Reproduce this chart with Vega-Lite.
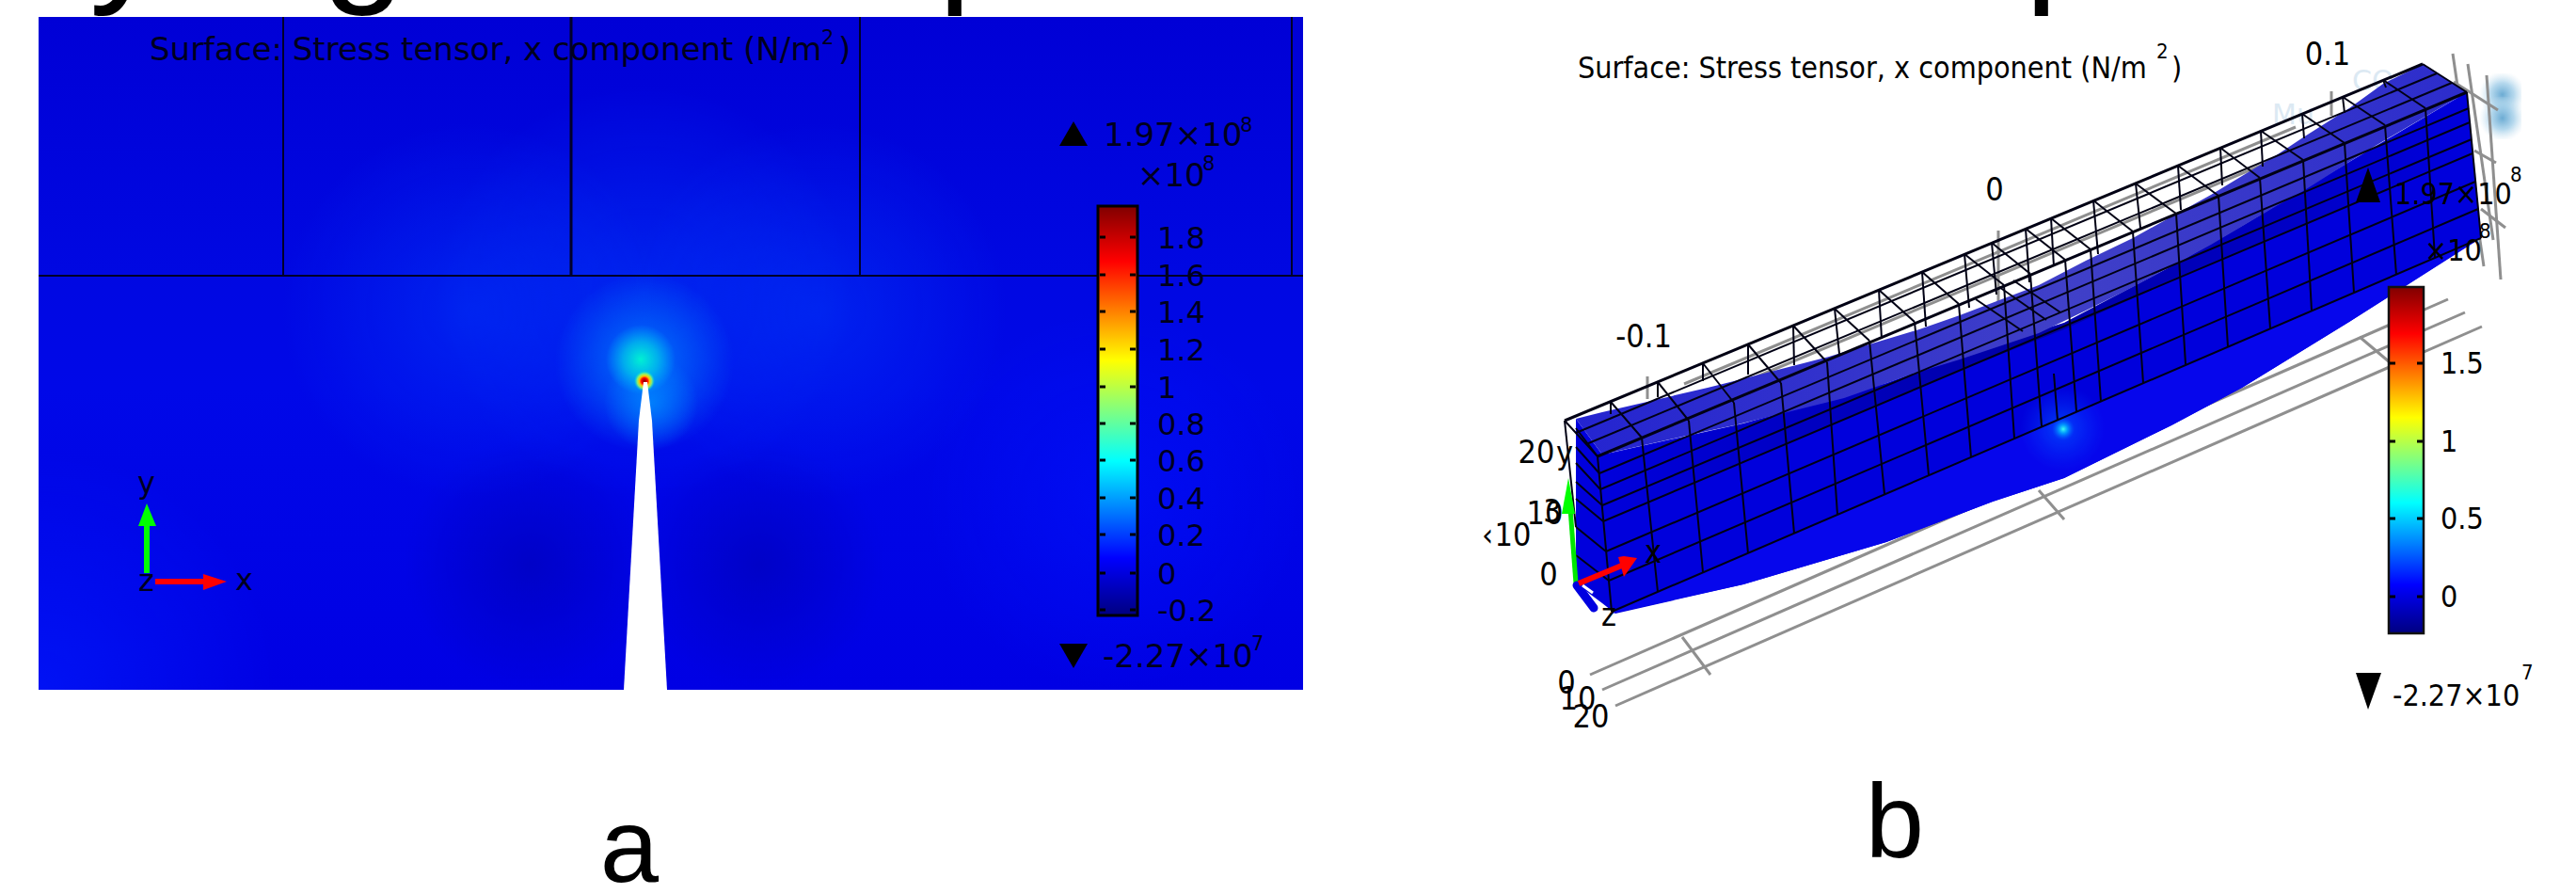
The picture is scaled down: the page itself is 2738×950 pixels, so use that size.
{"$schema":"https://vega.github.io/schema/vega-lite/v6.json","autosize":"none","width":2738,"height":950,"padding":0,"background":"white","view":{"stroke":null},"datasets":{"aLines":[{"x":301,"y":18,"x2":301,"y2":293},{"x":914,"y":18,"x2":914,"y2":293},{"x":1373,"y":18,"x2":1373,"y2":293},{"x":41,"y":293,"x2":1385,"y2":293}],"gray":[{"x":1690,"y":717,"x2":2602,"y2":318},{"x":1703,"y":733,"x2":2620,"y2":332},{"x":1717,"y":750,"x2":2638,"y2":347},{"x":1788,"y":677,"x2":1818,"y2":717},{"x":2167,"y":521,"x2":2194,"y2":552},{"x":2508,"y":358,"x2":2540,"y2":385},{"x":2607,"y":57,"x2":2640,"y2":283},{"x":2623,"y":68,"x2":2650,"y2":255},{"x":2643,"y":80,"x2":2658,"y2":297},{"x":2608,"y":87,"x2":2655,"y2":117},{"x":2630,"y":160,"x2":2653,"y2":173},{"x":2637,"y":222,"x2":2663,"y2":242},{"x":1751,"y":400,"x2":1751,"y2":424},{"x":2124,"y":245,"x2":2124,"y2":330},{"x":2478,"y":97,"x2":2478,"y2":123},{"x":1790,"y":408,"x2":2440,"y2":135},{"x":1820,"y":420,"x2":2460,"y2":152}],"mesh":[{"x":1700,"y":503,"x2":2624,"y2":115},{"x":1701,"y":520,"x2":2625,"y2":130},{"x":1703,"y":537,"x2":2627,"y2":148},{"x":1704,"y":554,"x2":2628,"y2":163},{"x":1707,"y":586,"x2":2631,"y2":193},{"x":1710,"y":617,"x2":2634,"y2":222},{"x":1713,"y":650,"x2":2637,"y2":253},{"x":1698,"y":485,"x2":1713,"y2":650},{"x":2622,"y":98,"x2":2637,"y2":253},{"x":1745,"y":465,"x2":1762,"y2":629},{"x":1795,"y":447,"x2":1810,"y2":608},{"x":1843,"y":428,"x2":1858,"y2":588},{"x":1893,"y":407,"x2":1907,"y2":567},{"x":1942,"y":385,"x2":1953,"y2":547},{"x":1987,"y":362,"x2":2003,"y2":525},{"x":2035,"y":342,"x2":2050,"y2":505},{"x":2082,"y":323,"x2":2095,"y2":486},{"x":2130,"y":303,"x2":2141,"y2":466},{"x":2158,"y":291,"x2":2170,"y2":453},{"x":2195,"y":276,"x2":2207,"y2":437},{"x":2222,"y":265,"x2":2233,"y2":427},{"x":2267,"y":246,"x2":2278,"y2":407},{"x":2313,"y":227,"x2":2323,"y2":387},{"x":2358,"y":208,"x2":2368,"y2":369},{"x":2402,"y":189,"x2":2413,"y2":349},{"x":2448,"y":170,"x2":2457,"y2":330},{"x":2492,"y":152,"x2":2502,"y2":311},{"x":2535,"y":133,"x2":2547,"y2":292},{"x":2578,"y":115,"x2":2588,"y2":274},{"x":2183,"y":397,"x2":2187,"y2":447},{"x":1663,"y":447,"x2":1698,"y2":485},{"x":1712,"y":427,"x2":1745,"y2":465},{"x":1762,"y":406,"x2":1795,"y2":447},{"x":1810,"y":386,"x2":1843,"y2":428},{"x":1858,"y":366,"x2":1893,"y2":407},{"x":1906,"y":346,"x2":1942,"y2":385},{"x":1950,"y":328,"x2":1987,"y2":362},{"x":1997,"y":308,"x2":2035,"y2":342},{"x":2043,"y":289,"x2":2082,"y2":323},{"x":2088,"y":270,"x2":2130,"y2":303},{"x":2117,"y":258,"x2":2158,"y2":291},{"x":2153,"y":243,"x2":2195,"y2":276},{"x":2180,"y":232,"x2":2222,"y2":265},{"x":2225,"y":213,"x2":2267,"y2":246},{"x":2270,"y":195,"x2":2313,"y2":227},{"x":2315,"y":176,"x2":2358,"y2":208},{"x":2360,"y":157,"x2":2402,"y2":189},{"x":2403,"y":139,"x2":2448,"y2":170},{"x":2447,"y":121,"x2":2492,"y2":152},{"x":2490,"y":103,"x2":2535,"y2":133},{"x":2533,"y":85,"x2":2578,"y2":115},{"x":2575,"y":68,"x2":2622,"y2":98},{"x":1675,"y":460,"x2":2590,"y2":78},{"x":1686,"y":472,"x2":2606,"y2":88},{"x":1712,"y":427,"x2":1712,"y2":440},{"x":1762,"y":406,"x2":1762,"y2":422},{"x":1810,"y":386,"x2":1810,"y2":405},{"x":1858,"y":366,"x2":1858,"y2":398},{"x":1906,"y":346,"x2":1907,"y2":388},{"x":1950,"y":328,"x2":1955,"y2":376},{"x":1997,"y":308,"x2":2000,"y2":360},{"x":2043,"y":289,"x2":2047,"y2":347},{"x":2088,"y":270,"x2":2093,"y2":327},{"x":2117,"y":258,"x2":2122,"y2":313},{"x":2153,"y":243,"x2":2157,"y2":300},{"x":2180,"y":232,"x2":2183,"y2":283},{"x":2225,"y":213,"x2":2230,"y2":270},{"x":2270,"y":195,"x2":2275,"y2":242},{"x":2315,"y":176,"x2":2318,"y2":223},{"x":2360,"y":157,"x2":2362,"y2":197},{"x":2403,"y":139,"x2":2405,"y2":177},{"x":2447,"y":121,"x2":2449,"y2":147},{"x":2490,"y":103,"x2":2492,"y2":120},{"x":2533,"y":85,"x2":2536,"y2":93},{"x":1698,"y":485,"x2":1675,"y2":455},{"x":1700,"y":503,"x2":1675,"y2":475},{"x":1701,"y":520,"x2":1675,"y2":492},{"x":1703,"y":537,"x2":1675,"y2":512},{"x":1704,"y":554,"x2":1675,"y2":530},{"x":1707,"y":586,"x2":1675,"y2":560},{"x":1710,"y":617,"x2":1675,"y2":590},{"x":1663,"y":447,"x2":1675,"y2":560},{"x":2100,"y":318,"x2":2150,"y2":352},{"x":2125,"y":305,"x2":2175,"y2":340},{"x":2140,"y":298,"x2":2190,"y2":332}],"meshThick":[{"x":1663,"y":447,"x2":2575,"y2":68},{"x":1698,"y":485,"x2":2622,"y2":98}],"aTicks":[{"x":1169,"y":252,"x2":1175,"y2":252},{"x":1201,"y":252,"x2":1207,"y2":252},{"x":1169,"y":292,"x2":1175,"y2":292},{"x":1201,"y":292,"x2":1207,"y2":292},{"x":1169,"y":331,"x2":1175,"y2":331},{"x":1201,"y":331,"x2":1207,"y2":331},{"x":1169,"y":371,"x2":1175,"y2":371},{"x":1201,"y":371,"x2":1207,"y2":371},{"x":1169,"y":411,"x2":1175,"y2":411},{"x":1201,"y":411,"x2":1207,"y2":411},{"x":1169,"y":450,"x2":1175,"y2":450},{"x":1201,"y":450,"x2":1207,"y2":450},{"x":1169,"y":489,"x2":1175,"y2":489},{"x":1201,"y":489,"x2":1207,"y2":489},{"x":1169,"y":529,"x2":1175,"y2":529},{"x":1201,"y":529,"x2":1207,"y2":529},{"x":1169,"y":568,"x2":1175,"y2":568},{"x":1201,"y":568,"x2":1207,"y2":568},{"x":1169,"y":609,"x2":1175,"y2":609},{"x":1201,"y":609,"x2":1207,"y2":609},{"x":1169,"y":648,"x2":1175,"y2":648},{"x":1201,"y":648,"x2":1207,"y2":648},{"x":2540,"y":386,"x2":2546,"y2":386},{"x":2569,"y":386,"x2":2575,"y2":386},{"x":2540,"y":469,"x2":2546,"y2":469},{"x":2569,"y":469,"x2":2575,"y2":469},{"x":2540,"y":551,"x2":2546,"y2":551},{"x":2569,"y":551,"x2":2575,"y2":551},{"x":2540,"y":634,"x2":2546,"y2":634},{"x":2569,"y":634,"x2":2575,"y2":634}],"triangles":[{"t":"aUp","x":1126,"y":155,"y2":155},{"t":"aUp","x":1141,"y":129,"y2":155},{"t":"aUp","x":1156,"y":155,"y2":155},{"t":"aDown","x":1126,"y":684,"y2":684},{"t":"aDown","x":1141,"y":684,"y2":710},{"t":"aDown","x":1156,"y":684,"y2":684},{"t":"bUp","x":2504,"y":215,"y2":215},{"t":"bUp","x":2517,"y":178,"y2":215},{"t":"bUp","x":2530,"y":215,"y2":215},{"t":"bDown","x":2504,"y":715,"y2":715},{"t":"bDown","x":2517,"y":715,"y2":754},{"t":"bDown","x":2531,"y":715,"y2":715}],"blobBright":[{"x":465,"y":90,"x2":905,"y2":530},{"x":300,"y":130,"x2":700,"y2":530},{"x":670,"y":130,"x2":1070,"y2":530}],"blobDark":[{"x":430,"y":467,"x2":696,"y2":733},{"x":674,"y":467,"x2":940,"y2":733}],"blobMid":[{"x":590,"y":290,"x2":780,"y2":480},{"x":642,"y":378,"x2":742,"y2":478}]},"encoding":{"x":{"field":"x","type":"quantitative","axis":null,"scale":{"domain":[0,2738],"nice":false,"zero":false}},"y":{"field":"y","type":"quantitative","axis":null,"scale":{"domain":[950,0],"nice":false,"zero":false}}},"layer":[{"data":{"values":[{"x":95,"y":-16,"t":"y"},{"x":342,"y":-16,"t":"g"},{"x":997,"y":-16,"t":"p"},{"x":2152,"y":-16,"t":"p"}]},"mark":{"type":"text","font":"Liberation Sans","fontSize":160,"align":"left","baseline":"alphabetic","color":"#000"},"encoding":{"text":{"field":"t"}}},{"data":{"values":[{"x":41,"y":18,"x2":1385,"y2":733}]},"mark":{"type":"rect","fill":{"gradient":"linear","x1":0,"y1":0,"x2":0,"y2":1,"stops":[{"offset":0,"color":"#0000d6"},{"offset":0.38,"color":"#0008e2"},{"offset":0.55,"color":"#0008e8"},{"offset":1,"color":"#0000e4"}]}},"encoding":{"x2":{"field":"x2"},"y2":{"field":"y2"}}},{"data":{"values":[{"x":41,"y":480,"x2":294,"y2":733}]},"mark":{"type":"rect","fill":{"gradient":"radial","x1":0,"y1":1,"r1":0,"x2":0,"y2":1,"r2":1,"stops":[{"offset":0,"color":"rgba(0,30,255,0.6)"},{"offset":1,"color":"rgba(0,30,255,0)"}]}},"encoding":{"x2":{"field":"x2"},"y2":{"field":"y2"}}},{"data":{"values":[{"x":982,"y":330,"x2":1385,"y2":733}]},"mark":{"type":"rect","fill":{"gradient":"radial","x1":0.5,"y1":0.5,"r1":0,"x2":0.5,"y2":0.5,"r2":0.5,"stops":[{"offset":0,"color":"rgba(0,20,255,0.5)"},{"offset":1,"color":"rgba(0,20,255,0)"}]}},"encoding":{"x2":{"field":"x2"},"y2":{"field":"y2"}}},{"data":{"name":"blobDark"},"mark":{"type":"rect","fill":{"gradient":"radial","x1":0.5,"y1":0.5,"r1":0,"x2":0.5,"y2":0.5,"r2":0.5,"stops":[{"offset":0,"color":"rgba(0,0,170,0.5)"},{"offset":1,"color":"rgba(0,0,170,0)"}]}},"encoding":{"x2":{"field":"x2"},"y2":{"field":"y2"}}},{"data":{"name":"blobBright"},"mark":{"type":"rect","fill":{"gradient":"radial","x1":0.5,"y1":0.5,"r1":0,"x2":0.5,"y2":0.5,"r2":0.5,"stops":[{"offset":0,"color":"rgba(0,70,255,0.42)"},{"offset":1,"color":"rgba(0,70,255,0)"}]}},"encoding":{"x2":{"field":"x2"},"y2":{"field":"y2"}}},{"data":{"name":"blobMid"},"mark":{"type":"rect","fill":{"gradient":"radial","x1":0.5,"y1":0.5,"r1":0,"x2":0.5,"y2":0.5,"r2":0.5,"stops":[{"offset":0,"color":"rgba(0,140,255,0.8)"},{"offset":1,"color":"rgba(0,140,255,0)"}]}},"encoding":{"x2":{"field":"x2"},"y2":{"field":"y2"}}},{"data":{"values":[{"x":644,"y":345,"x2":718,"y2":419}]},"mark":{"type":"rect","fill":{"gradient":"radial","x1":0.5,"y1":0.5,"r1":0,"x2":0.5,"y2":0.5,"r2":0.5,"stops":[{"offset":0,"color":"rgba(0,240,210,1)"},{"offset":0.5,"color":"rgba(0,220,230,0.6)"},{"offset":1,"color":"rgba(0,200,255,0)"}]}},"encoding":{"x2":{"field":"x2"},"y2":{"field":"y2"}}},{"data":{"values":[{"x":674,"y":394,"x2":696,"y2":416}]},"mark":{"type":"rect","fill":{"gradient":"radial","x1":0.5,"y1":0.5,"r1":0,"x2":0.5,"y2":0.5,"r2":0.5,"stops":[{"offset":0,"color":"#800000"},{"offset":0.3,"color":"#ff0000"},{"offset":0.5,"color":"#ffc800"},{"offset":0.72,"color":"rgba(160,255,90,0.8)"},{"offset":1,"color":"rgba(0,240,210,0)"}]}},"encoding":{"x2":{"field":"x2"},"y2":{"field":"y2"}}},{"data":{"values":[{"x":663,"y":733,"y2":733},{"x":679,"y":447,"y2":733},{"x":684,"y":406,"y2":733},{"x":688,"y":406,"y2":733},{"x":693,"y":447,"y2":733},{"x":709,"y":733,"y2":733}]},"mark":{"type":"area","color":"#ffffff"},"encoding":{"y2":{"field":"y2"}}},{"data":{"name":"aLines"},"mark":{"type":"rule","color":"#00002a","strokeWidth":2},"encoding":{"x2":{"field":"x2"},"y2":{"field":"y2"}}},{"data":{"values":[{"x":607,"y":18,"x2":607,"y2":293}]},"mark":{"type":"rule","color":"#00002a","strokeWidth":3},"encoding":{"x2":{"field":"x2"},"y2":{"field":"y2"}}},{"data":{"values":[{"x":1167,"y":219,"x2":1209,"y2":654}]},"mark":{"type":"rect","stroke":"#000","strokeWidth":3,"fill":{"gradient":"linear","x1":0,"y1":0,"x2":0,"y2":1,"stops":[{"offset":0,"color":"#800000"},{"offset":0.135,"color":"#ff0000"},{"offset":0.377,"color":"#ffff00"},{"offset":0.5,"color":"#80ff80"},{"offset":0.623,"color":"#00ffff"},{"offset":0.86,"color":"#0000ff"},{"offset":1,"color":"#000080"}]}},"encoding":{"x2":{"field":"x2"},"y2":{"field":"y2"}}},{"data":{"values":[{"x":1230,"y":264,"t":"1.8"},{"x":1230,"y":304,"t":"1.6"},{"x":1230,"y":343,"t":"1.4"},{"x":1230,"y":383,"t":"1.2"},{"x":1230,"y":423,"t":"1"},{"x":1230,"y":462,"t":"0.8"},{"x":1230,"y":501,"t":"0.6"},{"x":1230,"y":541,"t":"0.4"},{"x":1230,"y":580,"t":"0.2"},{"x":1230,"y":621,"t":"0"},{"x":1230,"y":660,"t":"-0.2"},{"x":146,"y":524,"t":"y"},{"x":250,"y":627,"t":"x"},{"x":147,"y":628,"t":"z"}]},"mark":{"type":"text","font":"DejaVu Sans","fontSize":32,"align":"left","baseline":"alphabetic","color":"#00001e"},"encoding":{"text":{"field":"t"}}},{"data":{"values":[{"x":1173,"y":155,"t":"1.97×10"},{"x":1209,"y":198,"t":"×10"},{"x":1172,"y":709,"t":"-2.27×10"},{"x":159,"y":64,"t":"Surface: Stress tensor, x component (N/m"},{"x":891,"y":64,"t":")"}]},"mark":{"type":"text","font":"DejaVu Sans","fontSize":34,"align":"left","baseline":"alphabetic","color":"#00001e"},"encoding":{"text":{"field":"t"}}},{"data":{"values":[{"x":1318,"y":140,"t":"8"},{"x":1278,"y":181,"t":"8"},{"x":1330,"y":691,"t":"7"},{"x":873,"y":47,"t":"2"}]},"mark":{"type":"text","font":"DejaVu Sans","fontSize":21,"align":"left","baseline":"alphabetic","color":"#00001e"},"encoding":{"text":{"field":"t"}}},{"data":{"values":[{"x":156,"y":609,"x2":156,"y2":555}]},"mark":{"type":"rule","color":"#00ff00","strokeWidth":6},"encoding":{"x2":{"field":"x2"},"y2":{"field":"y2"}}},{"data":{"values":[{"x":147,"y":559,"y2":559},{"x":156,"y":535,"y2":559},{"x":166,"y":559,"y2":559}]},"mark":{"type":"area","color":"#00ff00"},"encoding":{"y2":{"field":"y2"}}},{"data":{"values":[{"x":165,"y":618,"x2":220,"y2":618}]},"mark":{"type":"rule","color":"#ff0000","strokeWidth":6},"encoding":{"x2":{"field":"x2"},"y2":{"field":"y2"}}},{"data":{"values":[{"x":216,"y":610,"y2":627},{"x":241,"y":618,"y2":618}]},"mark":{"type":"area","color":"#ff0000"},"encoding":{"y2":{"field":"y2"}}},{"data":{"values":[{"x":2635,"y":78,"x2":2680,"y2":123},{"x":2635,"y":103,"x2":2680,"y2":148}]},"mark":{"type":"rect","fill":{"gradient":"radial","x1":0.55,"y1":0.5,"r1":0,"x2":0.55,"y2":0.5,"r2":0.55,"stops":[{"offset":0,"color":"rgba(70,150,200,0.8)"},{"offset":0.5,"color":"rgba(150,200,230,0.7)"},{"offset":1,"color":"rgba(200,225,240,0)"}]}},"encoding":{"x2":{"field":"x2"},"y2":{"field":"y2"}}},{"data":{"values":[{"x":2415,"y":132,"t":"Mu"},{"x":2500,"y":96,"t":"CO"}]},"mark":{"type":"text","font":"DejaVu Sans","fontSize":30,"align":"left","baseline":"alphabetic","color":"#dce9f3"},"encoding":{"text":{"field":"t"}}},{"data":{"name":"gray"},"mark":{"type":"rule","color":"#8f8f8f","strokeWidth":3},"encoding":{"x2":{"field":"x2"},"y2":{"field":"y2"}}},{"data":{"values":[{"x":1675,"y":445,"y2":620},{"x":1703,"y":483,"y2":641},{"x":1717,"y":480,"y2":652},{"x":1853,"y":450,"y2":621},{"x":2005,"y":407,"y2":576},{"x":2118,"y":366,"y2":533},{"x":2194,"y":343,"y2":508},{"x":2308,"y":283,"y2":452},{"x":2383,"y":240,"y2":412},{"x":2497,"y":172,"y2":342},{"x":2622,"y":98,"y2":262},{"x":2637,"y":253,"y2":253}]},"mark":{"type":"area","color":"#0000dc"},"encoding":{"y2":{"field":"y2"}}},{"data":{"values":[{"x":1703,"y":483,"y2":552},{"x":1843,"y":452,"y2":496},{"x":1960,"y":423,"y2":446},{"x":2080,"y":382,"y2":395},{"x":2194,"y":343,"y2":350},{"x":2300,"y":287,"y2":302},{"x":2448,"y":203,"y2":239},{"x":2533,"y":150,"y2":203},{"x":2622,"y":98,"y2":164}]},"mark":{"type":"area","fill":{"gradient":"linear","x1":0,"y1":0,"x2":1,"y2":0,"stops":[{"offset":0,"color":"rgba(0,0,110,0)"},{"offset":0.5,"color":"rgba(0,0,110,0.5)"},{"offset":1,"color":"rgba(0,0,110,0)"}]}},"encoding":{"y2":{"field":"y2"}}},{"data":{"values":[{"x":1713,"y":650,"y2":652},{"x":1853,"y":590,"y2":621},{"x":2005,"y":525,"y2":576},{"x":2118,"y":476,"y2":533},{"x":2194,"y":443,"y2":508},{"x":2308,"y":394,"y2":452},{"x":2383,"y":362,"y2":412},{"x":2497,"y":313,"y2":342},{"x":2637,"y":253,"y2":253}]},"mark":{"type":"area","color":"#0606ec"},"encoding":{"y2":{"field":"y2"}}},{"data":{"values":[{"x":1675,"y":445,"y2":445},{"x":1703,"y":438,"y2":483},{"x":1815,"y":412,"y2":458},{"x":1843,"y":405,"y2":452},{"x":1944,"y":379,"y2":427},{"x":1960,"y":374,"y2":423},{"x":2040,"y":350,"y2":395},{"x":2083,"y":335,"y2":382},{"x":2167,"y":303,"y2":354},{"x":2217,"y":277,"y2":330},{"x":2267,"y":253,"y2":305},{"x":2350,"y":207,"y2":260},{"x":2421,"y":164,"y2":218},{"x":2448,"y":146,"y2":203},{"x":2497,"y":115,"y2":172},{"x":2533,"y":89,"y2":150},{"x":2576,"y":68,"y2":125},{"x":2622,"y":98,"y2":98}]},"mark":{"type":"area","fill":{"gradient":"linear","x1":0,"y1":0,"x2":1,"y2":0,"stops":[{"offset":0,"color":"#2424d0"},{"offset":0.55,"color":"#4040c8"},{"offset":1,"color":"#2c2ccc"}]}},"encoding":{"y2":{"field":"y2"}}},{"data":{"values":[{"x":2147,"y":410,"x2":2237,"y2":500}]},"mark":{"type":"rect","fill":{"gradient":"radial","x1":0.5,"y1":0.5,"r1":0,"x2":0.5,"y2":0.5,"r2":0.5,"stops":[{"offset":0,"color":"rgba(0,90,255,0.7)"},{"offset":1,"color":"rgba(0,60,255,0)"}]}},"encoding":{"x2":{"field":"x2"},"y2":{"field":"y2"}}},{"data":{"values":[{"x":2181,"y":444,"x2":2205,"y2":468}]},"mark":{"type":"rect","fill":{"gradient":"radial","x1":0.5,"y1":0.5,"r1":0,"x2":0.5,"y2":0.5,"r2":0.5,"stops":[{"offset":0,"color":"rgba(60,255,240,1)"},{"offset":0.4,"color":"rgba(0,170,255,0.8)"},{"offset":1,"color":"rgba(0,90,255,0)"}]}},"encoding":{"x2":{"field":"x2"},"y2":{"field":"y2"}}},{"data":{"name":"mesh"},"mark":{"type":"rule","color":"#000014","strokeWidth":2},"encoding":{"x2":{"field":"x2"},"y2":{"field":"y2"}}},{"data":{"name":"meshThick"},"mark":{"type":"rule","color":"#000014","strokeWidth":3},"encoding":{"x2":{"field":"x2"},"y2":{"field":"y2"}}},{"data":{"values":[{"x":2539,"y":305,"x2":2576,"y2":673}]},"mark":{"type":"rect","stroke":"#111","strokeWidth":2.5,"fill":{"gradient":"linear","x1":0,"y1":0,"x2":0,"y2":1,"stops":[{"offset":0,"color":"#800000"},{"offset":0.135,"color":"#ff0000"},{"offset":0.377,"color":"#ffff00"},{"offset":0.5,"color":"#80ff80"},{"offset":0.623,"color":"#00ffff"},{"offset":0.86,"color":"#0000ff"},{"offset":1,"color":"#000080"}]}},"encoding":{"x2":{"field":"x2"},"y2":{"field":"y2"}}},{"data":{"name":"aTicks"},"mark":{"type":"rule","color":"#000","strokeWidth":3},"encoding":{"x2":{"field":"x2"},"y2":{"field":"y2"}}},{"data":{"name":"triangles"},"mark":{"type":"area","color":"#000"},"encoding":{"y2":{"field":"y2"},"detail":{"field":"t"}}},{"data":{"values":[{"x":2594,"y":397,"t":"1.5"},{"x":2594,"y":480,"t":"1"},{"x":2594,"y":562,"t":"0.5"},{"x":2594,"y":645,"t":"0"},{"x":2545,"y":217,"t":"1.97×10"},{"x":2577,"y":277,"t":"×10"},{"x":2543,"y":750,"t":"-2.27×10"},{"x":1677,"y":83,"t":"Surface: Stress tensor, x component (N/m"},{"x":2308,"y":83,"t":")"}]},"mark":{"type":"text","font":"DejaVu Sans Condensed","fontSize":32,"align":"left","baseline":"alphabetic","color":"#000"},"encoding":{"text":{"field":"t"}}},{"data":{"values":[{"x":2668,"y":193,"t":"8"},{"x":2635,"y":253,"t":"8"},{"x":2680,"y":722,"t":"7"},{"x":2292,"y":62,"t":"2"}]},"mark":{"type":"text","font":"DejaVu Sans Condensed","fontSize":22,"align":"left","baseline":"alphabetic","color":"#000"},"encoding":{"text":{"field":"t"}}},{"data":{"values":[{"x":1747,"y":359,"t":"-0.1"},{"x":2120,"y":203,"t":"0"},{"x":2474,"y":59,"t":"0.1"},{"x":1633,"y":482,"t":"20"},{"x":1663,"y":483,"t":"y"},{"x":1642,"y":547,"t":"10"},{"x":1650,"y":545,"t":"3"},{"x":1581,"y":570,"t":"‹"},{"x":1608,"y":570,"t":"10"},{"x":1646,"y":612,"t":"0"},{"x":1757,"y":588,"t":"x"},{"x":1710,"y":655,"t":"z"},{"x":1665,"y":727,"t":"0"},{"x":1677,"y":744,"t":"10"},{"x":1691,"y":763,"t":"20"}]},"mark":{"type":"text","font":"DejaVu Sans Condensed","fontSize":34,"align":"center","baseline":"middle","color":"#000"},"encoding":{"text":{"field":"t"}}},{"data":{"values":[{"x":1675,"y":620,"x2":1669,"y2":540}]},"mark":{"type":"rule","color":"#00e800","strokeWidth":5},"encoding":{"x2":{"field":"x2"},"y2":{"field":"y2"}}},{"data":{"values":[{"x":1660,"y":546,"y2":546},{"x":1667,"y":508,"y2":546},{"x":1674,"y":546,"y2":546}]},"mark":{"type":"area","color":"#00ff00"},"encoding":{"y2":{"field":"y2"}}},{"data":{"values":[{"x":1676,"y":622,"x2":1694,"y2":646}]},"mark":{"type":"rule","color":"#0000e0","strokeWidth":9,"strokeCap":"round"},"encoding":{"x2":{"field":"x2"},"y2":{"field":"y2"}}},{"data":{"values":[{"x":1682,"y":622,"x2":1693,"y2":630}]},"mark":{"type":"rule","color":"#ffffff","strokeWidth":3},"encoding":{"x2":{"field":"x2"},"y2":{"field":"y2"}}},{"data":{"values":[{"x":1678,"y":620,"x2":1726,"y2":600}]},"mark":{"type":"rule","color":"#ff0000","strokeWidth":6},"encoding":{"x2":{"field":"x2"},"y2":{"field":"y2"}}},{"data":{"values":[{"x":1720,"y":592,"y2":592},{"x":1726,"y":591,"y2":613},{"x":1740,"y":593,"y2":593}]},"mark":{"type":"area","color":"#ff0000"},"encoding":{"y2":{"field":"y2"}}},{"data":{"values":[{"x":669,"y":937,"t":"a"},{"x":2014,"y":911,"t":"b"}]},"mark":{"type":"text","font":"Liberation Sans","fontSize":112,"align":"center","baseline":"alphabetic","color":"#000"},"encoding":{"text":{"field":"t"}}}]}
